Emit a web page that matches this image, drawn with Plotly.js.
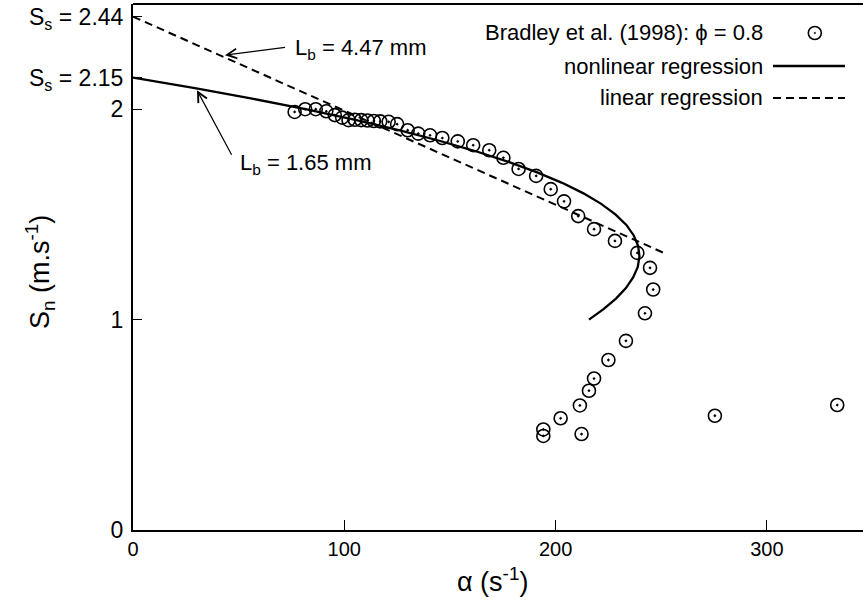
<!DOCTYPE html>
<html>
<head>
<meta charset="utf-8">
<script src="https://cdn.plot.ly/plotly-3.0.1.min.js"></script>
<style>html,body{margin:0;padding:0;background:#fff;}#chart{width:863px;height:604px;}</style>
</head>
<body>
<div id="chart"></div>
<script>
// Bradley et al. (1998), phi = 0.8 : stretch rate alpha (1/s) vs burning velocity S_n (m/s)
const dataAlpha = [76.5, 81.5, 86.5, 91.5, 95.5, 99, 102, 105, 108, 111, 114, 117, 121, 125, 130, 135, 140.6, 146.4, 153.7, 161, 168.6, 175.3, 182.5, 190.8, 197.7, 204, 210.7, 218.2, 228.1, 238.7, 244.7, 246.2, 242.3, 233.3, 225, 218.2, 215.8, 211.5, 202.4, 194.2, 194.2, 212.3, 275.4, 333.3];
const dataSn    = [1.987, 2.0, 2.0, 1.99, 1.972, 1.96, 1.948, 1.95, 1.948, 1.946, 1.944, 1.942, 1.94, 1.929, 1.9, 1.884, 1.876, 1.863, 1.847, 1.829, 1.805, 1.769, 1.716, 1.683, 1.62, 1.562, 1.492, 1.43, 1.374, 1.317, 1.246, 1.143, 1.03, 0.899, 0.808, 0.72, 0.662, 0.592, 0.531, 0.478, 0.447, 0.456, 0.543, 0.594];

// nonlinear regression curve (S_s = 2.15, L_b = 1.65 mm)
const nlAlpha = [0, 29.3, 56.4, 81.6, 104.7, 125.8, 145.0, 162.3, 177.7, 191.3, 203.1, 213.2, 221.6, 228.3, 233.5, 237.0, 239.1, 239.7, 238.9, 236.7, 233.3, 228.6, 222.7, 215.8];
const nlSn    = [2.15, 2.10, 2.05, 2.00, 1.95, 1.90, 1.85, 1.80, 1.75, 1.70, 1.65, 1.60, 1.55, 1.50, 1.45, 1.40, 1.35, 1.30, 1.25, 1.20, 1.15, 1.10, 1.05, 1.00];

// linear regression line (S_s = 2.44, L_b = 4.47 mm)
const linAlpha = [0, 251];
const linSn    = [2.44, 1.318];

const yTickVals = [0, 1, 2, 2.15, 2.44];
const yTickText = ['0', '1', '2', 'S<sub>s</sub> = 2.15', 'S<sub>s</sub> = 2.44'];
const xTickVals = [0, 100, 200, 300];

const legendLabels = ['Bradley et al. (1998): \u03d5 = 0.8', 'nonlinear regression', 'linear regression'];
const xTitle = '\u03b1 (s<sup>-1</sup>)';
const yTitle = 'S<sub>n</sub> (m.s<sup>-1</sup>)';

const FONT = 'Liberation Sans, Arial, Helvetica, sans-serif';

const traces = [
  {x: nlAlpha, y: nlSn, mode: 'lines', line: {color: '#000', width: 2.3}, showlegend: false, hoverinfo: 'skip'},
  {x: linAlpha, y: linSn, mode: 'lines', line: {color: '#000', width: 2, dash: '8px,5px'}, showlegend: false, hoverinfo: 'skip'},
  {x: dataAlpha, y: dataSn, mode: 'markers', marker: {symbol: 'circle-open-dot', size: 13, color: '#000', line: {width: 1.6, color: '#000'}}, showlegend: false}
];

const legY = [0.9449, 0.8821, 0.8213];
const legTextX = 0.8658;
const annotations = legendLabels.map((t, i) => ({
  xref: 'paper', yref: 'paper', x: legTextX, y: legY[i], xanchor: 'right', yanchor: 'middle',
  text: t, showarrow: false, font: {family: FONT, size: 22, color: '#000'}
}));
annotations.push(
  {xref: 'x', yref: 'y', x: 43.5, y: 2.257, axref: 'x', ayref: 'y', ax: 72.9, ay: 2.295, text: ' ', showarrow: true, arrowhead: 5, arrowsize: 1.6, arrowwidth: 1.2, arrowcolor: '#000', standoff: 0, font: {size: 2}},
  {xref: 'x', yref: 'y', x: 75.5, y: 2.285, xanchor: 'left', yanchor: 'middle', text: 'L<sub>b</sub> = 4.47 mm', showarrow: false, font: {family: FONT, size: 22, color: '#000'}},
  {xref: 'x', yref: 'y', x: 30.3, y: 2.09, axref: 'x', ayref: 'y', ax: 47.3, ay: 1.772, text: ' ', showarrow: true, arrowhead: 5, arrowsize: 1.6, arrowwidth: 1.2, arrowcolor: '#000', standoff: 0, font: {size: 2}},
  {xref: 'x', yref: 'y', x: 49.5, y: 1.74, xanchor: 'left', yanchor: 'middle', text: 'L<sub>b</sub> = 1.65 mm', showarrow: false, font: {family: FONT, size: 22, color: '#000'}},
  {xref: 'paper', yref: 'paper', x: -0.1274, y: 0.4905, xanchor: 'center', yanchor: 'middle', textangle: -90, text: yTitle, showarrow: false, font: {family: FONT, size: 27, color: '#000'}},
  {xref: 'paper', yref: 'paper', x: 0.4918, y: -0.095, xanchor: 'center', yanchor: 'middle', text: xTitle, showarrow: false, font: {family: FONT, size: 27, color: '#000'}}
);

const shapes = [
  // top frame
  {type: 'line', xref: 'paper', yref: 'paper', x0: 0, x1: 1, y0: 1, y1: 1, line: {color: '#000', width: 2}},
  // legend samples
  {type: 'circle', xref: 'paper', yref: 'paper', xsizemode: 'pixel', ysizemode: 'pixel', xanchor: 0.934, yanchor: legY[0], x0: -6.5, x1: 6.5, y0: -6.5, y1: 6.5, line: {color: '#000', width: 1.6}},
  {type: 'circle', xref: 'paper', yref: 'paper', xsizemode: 'pixel', ysizemode: 'pixel', xanchor: 0.934, yanchor: legY[0], x0: -0.8, x1: 0.8, y0: -0.8, y1: 0.8, fillcolor: '#000', line: {color: '#000', width: 0.5}},
  {type: 'line', xref: 'paper', yref: 'paper', x0: 0.8767, x1: 0.9753, y0: legY[1], y1: legY[1], line: {color: '#000', width: 2.3}},
  {type: 'line', xref: 'paper', yref: 'paper', x0: 0.8767, x1: 0.9753, y0: legY[2], y1: legY[2], line: {color: '#000', width: 2, dash: '8px,5px'}}
];

const layout = {
  width: 863, height: 604,
  margin: {l: 133, r: 0, t: 4, b: 74, pad: 0},
  paper_bgcolor: '#fff', plot_bgcolor: '#fff',
  font: {family: FONT, size: 20, color: '#000'},
  showlegend: false,
  xaxis: {
    range: [0, 345.5], tickvals: xTickVals, ticks: 'inside', ticklen: 10, tickwidth: 1.2, tickcolor: '#000',
    showgrid: false, zeroline: false, showline: true, linecolor: '#000', linewidth: 2,
    tickfont: {family: FONT, size: 20, color: '#000'}
  },
  yaxis: {
    range: [0, 2.5], tickvals: yTickVals, ticktext: yTickText, ticks: 'inside', ticklen: 9, tickwidth: 1.2, tickcolor: '#000',
    showgrid: false, zeroline: false, showline: true, linecolor: '#000', linewidth: 2,
    tickfont: {family: FONT, size: 23, color: '#000'}, ticklabelstandoff: 3
  },
  annotations: annotations,
  shapes: shapes
};

Plotly.newPlot('chart', traces, layout, {displayModeBar: false, staticPlot: true});
</script>
</body>
</html>
